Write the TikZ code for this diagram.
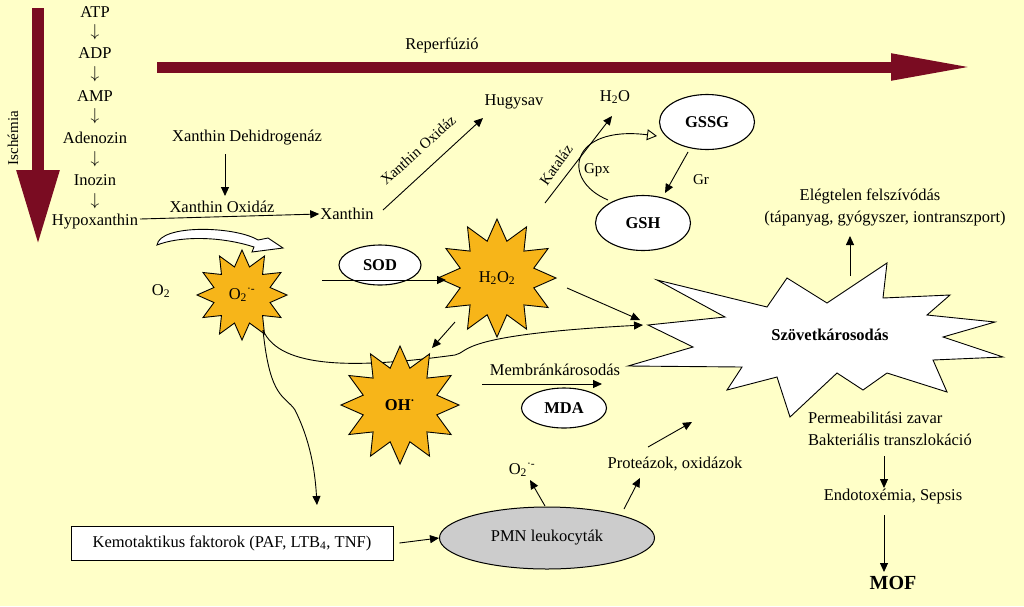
\documentclass[tikz,border=0pt]{standalone}
\usepackage{fontspec}
\setmainfont{Liberation Serif}
\usetikzlibrary{shapes.geometric,arrows.meta}
\definecolor{bg}{HTML}{FFFFC8}
\definecolor{dred}{HTML}{7A0C22}
\definecolor{orng}{HTML}{F7B519}
\begin{document}
\begin{tikzpicture}[x=1pt,y=-1pt,
  every node/.style={font=\fontsize{16.5}{18}\selectfont, inner sep=1pt},
  arr/.style={-{Triangle[length=9pt,width=8pt]}, line width=0.9pt},
  ln/.style={line width=0.9pt},
  burst/.style={star, star points=12, star point ratio=1.55, draw, fill=orng, line width=0.9pt},
  ell/.style={ellipse, draw, fill=white, line width=1.1pt, font=\fontsize{16.5}{18}\selectfont\bfseries},
  small/.style={font=\fontsize{15}{17}\selectfont}]
\fill[bg] (0,0) rectangle (1024,606);
\useasboundingbox (0,0) rectangle (1024,606);
% big arrows
\coordinate (isA) at (38,8); \coordinate (isB) at (38,245);
\draw[dred, line width=12pt, -{Triangle[length=75pt,width=40pt]}] (isA) -- (isB);
\node[rotate=90, small] (isch) at (13,138) {Ischémia};
\coordinate (reA) at (157,67); \coordinate (reB) at (976,67);
\draw[dred, line width=11pt, -{Triangle[length=85pt,width=24pt]}] (reA) -- (reB);
\node (rep) at (442,45) {Reperfúzió};
% column
\node (atp) at (95,12) {ATP};
\node (a1) at (95,32) {$\downarrow$};
\node (adp) at (95,53) {ADP};
\node (a2) at (95,74) {$\downarrow$};
\node (amp) at (95,96) {AMP};
\node (a3) at (95,116) {$\downarrow$};
\node (ado) at (95,138) {Adenozin};
\node (a4) at (95,159) {$\downarrow$};
\node (ino) at (95,180) {Inozin};
\node (a5) at (95,201) {$\downarrow$};
\node (hyp) at (95,222) {Hypoxanthin};
% xanthin
\node (xdh) at (247,138) {Xanthin Dehidrogenáz};
\node (xo) at (222,207) {Xanthin Oxidáz};
\draw[arr] (225,154) coordinate (xd1) -- (225,196);
\node (xan) at (347,214) {Xanthin};
\draw[arr] (140,219) coordinate (h1) -- (xan.west);
\node (hug) at (514,102) {Hugysav};
\draw[arr] (383,210) coordinate (x1) -- (483,118) coordinate (x2);
\node[rotate=42, small] (xo2) at (418,150) {Xanthin Oxidáz};
% hollow curved arrow
\draw[fill=white, line width=0.9pt] (157,245) .. controls (160,224) and (235,226) .. (258,240)
  -- (268,238) -- (283,248) -- (252,252) -- (254,247) .. controls (220,236) and (180,236) .. cycle;
\node (o2) at (161,291) {O\textsubscript{2}};
% O2- star
\node[burst, minimum size=90pt] (o2s) at (242,295) {};
\node at (o2s) {O\textsubscript{2}\textsuperscript{·-}};
\node[ell, minimum width=82pt, minimum height=40pt] (sod) at (380,265) {SOD};
\node[burst, minimum size=118pt] (h2o2) at (497,278) {};
\node at (h2o2) {H\textsubscript{2}O\textsubscript{2}};
\draw[arr] (322,280) coordinate (s1) -- (446,280) coordinate (s2);
% Katalaz
\node (h2o) at (615,97) {H\textsubscript{2}O};
\draw[arr] (545,203) coordinate (k1) -- (612,116) coordinate (k2);
\node[rotate=55, small] (kat) at (556,165) {Kataláz};
% GSSG/GSH
\node[ell, minimum width=95pt, minimum height=55pt] (gssg) at (707,122) {GSSG};
\node[ell, minimum width=95pt, minimum height=55pt] (gsh) at (643,223) {GSH};
\draw[arr] (688,152) coordinate (g1) -- (665,193) coordinate (g2);
\node[small] (gr) at (701,180) {Gr};
\draw[ln, -{Triangle[open,length=10pt,width=11pt]}] (608,200) .. controls (560,180) and (570,125) .. (657,136);
\node[small] (gpx) at (597,170) {Gpx};
% Szovetkarosodas
\draw[fill=white, line width=0.9pt] (657,280) -- (767,307) -- (787,278) -- (827,303) -- (887,263) -- (883,298)
 -- (950,295) -- (927,315) -- (995,322) -- (943,337) -- (1003,357) -- (933,360) -- (947,392) -- (887,373)
 -- (863,390) -- (837,373) -- (790,417) -- (777,377) -- (727,390) -- (742,367) -- (628,366) -- (693,347)
 -- (648,325) -- (725,317) -- cycle;
\node[font=\fontsize{16.5}{18}\selectfont\bfseries] (szov) at (830,335) {Szövetkárosodás};
\coordinate (szt) at (643,325);
\draw[arr] (567,288) -- (640,320);
\draw[arr] (263,330) .. controls (280,370) and (360,368) .. (455,355) .. controls (470,352) and (455,335) .. (szt);
\draw[arr] (455,322) -- (432,348);
% OH
\node[burst, minimum size=118pt] (oh) at (400,405) {};
\node[font=\fontsize{16.5}{18}\selectfont\bfseries] at (oh) {OH\textsuperscript{·}};
\node (mem) at (555,370) {Membránkárosodás};
\draw[arr] (482,384) coordinate (m1) -- (602,384) coordinate (m2);
\node[ell, minimum width=85pt, minimum height=40pt] (mda) at (564,408) {MDA};
% Kemotaktikus
\node[draw, fill=white, line width=0.9pt, minimum width=322pt, minimum height=34pt] (kem) at (232,543)
  {Kemotaktikus faktorok (PAF, LTB\textsubscript{4}, TNF)};
\draw[arr] (263,330) .. controls (270,400) and (285,395) .. (295,410) .. controls (310,440) and (315,470) .. (317,505);
\node[ellipse, draw, fill=gray!40, line width=1pt, minimum width=215pt, minimum height=62pt] (pmn) at (547,538) {PMN leukocyták};
\draw[arr] (kem.east) ++(6,0) -- (pmn.west);
\node (o2b) at (522,470) {O\textsubscript{2}\textsuperscript{·-}};
\draw[arr] (545,506) -- (530,480);
\node (prot) at (675,464) {Proteázok, oxidázok};
\draw[arr] (624,509) -- (640,478);
\draw[arr] (648,447) -- (692,422);
% right
\node (ele) at (870,196) {Elégtelen felszívódás};
\node (tap) at (885,219) {(tápanyag, gyógyszer, iontranszport)};
\draw[arr] (850,276) -- (850,236);
\node[anchor=west] (perm) at (807,418) {Permeabilitási zavar};
\node[anchor=west] (bakt) at (807,440) {Bakteriális transzlokáció};
\draw[arr] (884,456) -- (884,488);
\node (endo) at (893,497) {Endotoxémia, Sepsis};
\draw[arr] (884,515) -- (884,572);
\node[font=\fontsize{20}{22}\selectfont\bfseries] (mof) at (893,583) {MOF};
\end{tikzpicture}
\end{document}
